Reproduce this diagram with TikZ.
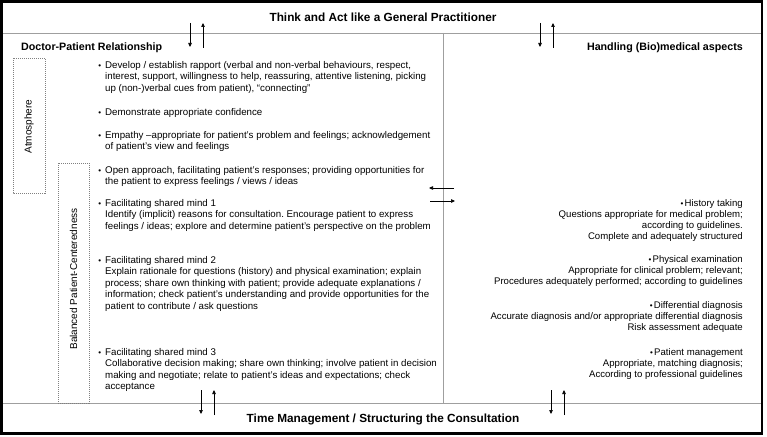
\documentclass[tikz,border=0pt]{standalone}
\usepackage{fontspec}
\setmainfont{Liberation Sans}
\usetikzlibrary{arrows.meta}
\frenchspacing
\newcommand{\Lpar}[1]{\begin{tabular}[t]{@{}l@{}}#1\end{tabular}}
\newcommand{\Rpar}[1]{\begin{tabular}[t]{@{}r@{}}#1\end{tabular}}
\newcommand{\smbul}{{\fontsize{8}{8}\selectfont\textbullet}}
\newcommand{\lbul}{\llap{\smbul\hspace{4pt}}}
\newcommand{\rbul}{\smbul\hspace{1.2pt}}
\begin{document}
\begin{tikzpicture}[x=1pt,y=-1pt,
  body/.style={font=\fontsize{9.72}{11.5}\selectfont, inner sep=0pt, anchor=base west},
  rbody/.style={font=\fontsize{9.6}{11.2}\selectfont, inner sep=0pt, anchor=base east},
  head/.style={font=\fontsize{11.8}{13}\selectfont\bfseries, inner sep=0pt, anchor=base},
  sub/.style={font=\fontsize{10.7}{12}\selectfont\bfseries, inner sep=0pt},
  dbox/.style={draw=gray, dash pattern=on 1pt off 1pt, line width=0.5pt},
  vlab/.style={font=\fontsize{10}{12}\selectfont, rotate=90, inner sep=0pt},
  sep/.style={draw=gray!75, line width=0.7pt},
  arr/.style={-{Triangle[length=4pt,width=3.5pt]}, line width=0.7pt},
]
\useasboundingbox (0,0) rectangle (767,436);
\fill[white] (0,0) rectangle (767,436);

% separators
\draw[sep] (3,33) -- (761,33);
\draw[sep] (3,403) -- (761,403);
\draw[sep] (443,33) -- (443,403);

% frame
\draw[line width=2.6pt] (1.5,1.5) rectangle (762,433.5);

% headers
\node[head] (top) at (383,21.5) {Think and Act like a General Practitioner};
\node[head] (bot) at (383,422.5) {Time Management / Structuring the Consultation};
\node[sub, anchor=base west] (dpr) at (21,50) {Doctor-Patient Relationship};
\node[sub, anchor=base east] (hbm) at (743,50) {Handling (Bio)medical aspects};

% dashed boxes
\draw[dbox] (13,58) rectangle (45,193);
\node[vlab] (atm) at (29,126.5) {Atmosphere};
\draw[dbox] (58,163) rectangle (89,403);
\node[vlab] (bpc) at (73.5,279) {Balanced Patient-Centeredness};

% left column
\node[body] (p1) at (105,68) {\Lpar{\lbul Develop / establish rapport (verbal and non-verbal behaviours, respect,\\
interest, support, willingness to help, reassuring, attentive listening, picking\\
up (non-)verbal cues from patient), “connecting”}};
\node[body] (p2) at (105,115) {\Lpar{\lbul Demonstrate appropriate confidence}};
\node[body] (p3) at (105,138) {\Lpar{\lbul Empathy –appropriate for patient’s problem and feelings; acknowledgement\\
of patient’s view and feelings}};
\node[body] (p4) at (105,173) {\Lpar{\lbul Open approach, facilitating patient’s responses; providing opportunities for\\
the patient to express feelings / views / ideas}};
\node[body] (p5) at (105,206) {\Lpar{\lbul Facilitating shared mind 1\\
Identify (implicit) reasons for consultation. Encourage patient to express\\
feelings / ideas; explore and determine patient’s perspective on the problem}};
\node[body] (p6) at (105,263) {\Lpar{\lbul Facilitating shared mind 2\\
Explain rationale for questions (history) and physical examination; explain\\
process; share own thinking with patient; provide adequate explanations /\\
information; check patient’s understanding and provide opportunities for the\\
patient to contribute / ask questions}};
\node[body] (p7) at (105,355) {\Lpar{\lbul Facilitating shared mind 3\\
Collaborative decision making; share own thinking; involve patient in decision\\
making and negotiate; relate to patient’s ideas and expectations; check\\
acceptance}};

% right column
\node[rbody] (r1) at (743,206) {\Rpar{\rbul History taking\\
Questions appropriate for medical problem;\\
according to guidelines.\\
Complete and adequately structured}};
\node[rbody] (r2) at (743,262) {\Rpar{\rbul Physical examination\\
Appropriate for clinical problem; relevant;\\
Procedures adequately performed; according to guidelines}};
\node[rbody] (r3) at (743,308) {\Rpar{\rbul Differential diagnosis\\
Accurate diagnosis and/or appropriate differential diagnosis\\
Risk assessment adequate}};
\node[rbody] (r4) at (743,355) {\Rpar{\rbul Patient management\\
Appropriate, matching diagnosis;\\
According to professional guidelines}};

% arrows
\coordinate (a1s) at (190,23); \coordinate (a1e) at (190,47);
\coordinate (a2s) at (203,48); \coordinate (a2e) at (203,23);
\coordinate (a3s) at (540,23); \coordinate (a3e) at (540,47);
\coordinate (a4s) at (553,48); \coordinate (a4e) at (553,23);
\coordinate (a5s) at (201,390); \coordinate (a5e) at (201,414);
\coordinate (a6s) at (214,415); \coordinate (a6e) at (214,390);
\coordinate (a7s) at (551,390); \coordinate (a7e) at (551,414);
\coordinate (a8s) at (564,415); \coordinate (a8e) at (564,390);
\coordinate (h1s) at (454,188); \coordinate (h1e) at (429,188);
\coordinate (h2s) at (430,201); \coordinate (h2e) at (455,201);
\foreach \s/\e in {a1s/a1e,a2s/a2e,a3s/a3e,a4s/a4e,a5s/a5e,a6s/a6e,a7s/a7e,a8s/a8e,h1s/h1e,h2s/h2e}
  \draw[arr] (\s) -- (\e);
\end{tikzpicture}
\end{document}
